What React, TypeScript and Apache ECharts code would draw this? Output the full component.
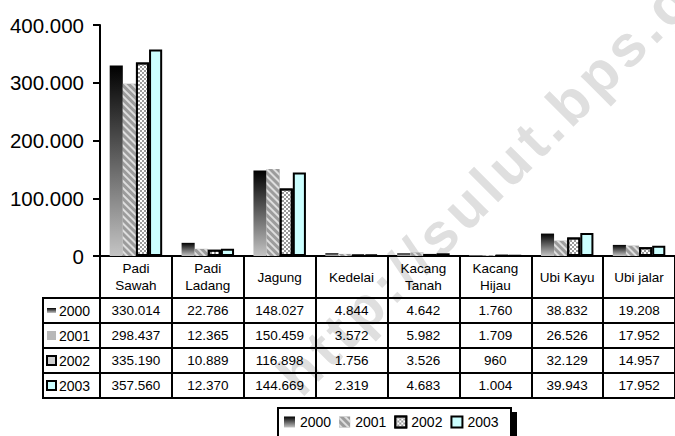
import React, { useEffect, useRef } from 'react';
import * as echarts from 'echarts';

const categories = ['Padi\nSawah', 'Padi\nLadang', 'Jagung', 'Kedelai', 'Kacang\nTanah', 'Kacang\nHijau', 'Ubi Kayu', 'Ubi jalar'];
const years = ['2000', '2001', '2002', '2003'];
const v2000 = [330014, 22786, 148027, 4844, 4642, 1760, 38832, 19208];
const v2001 = [298437, 12365, 150459, 3572, 5982, 1709, 26526, 17952];
const v2002 = [335190, 10889, 116898, 1756, 3526, 960, 32129, 14957];
const v2003 = [357560, 12370, 144669, 2319, 4683, 1004, 39943, 17952];
const yMin = 0;
const yMax = 400000;
const yStep = 100000;
const watermark = 'http://sulut.bps.go.id';

const FONT = "Arial, 'Liberation Sans', sans-serif";
const fmt = (n: number) => String(n).replace(/\B(?=(\d{3})+(?!\d))/g, '.');

const charW: Record<string, number> = {
  h: 0.611, t: 0.333, p: 0.611, ':': 0.333, '/': 0.278, s: 0.556, u: 0.611, l: 0.278,
  '.': 0.278, b: 0.611, g: 0.611, o: 0.611, i: 0.278, d: 0.611,
};

export default function App() {
  const ref = useRef<HTMLDivElement>(null);
  useEffect(() => {
    const chart = echarts.init(ref.current!, null, { renderer: 'svg' });
    const black = '#000';
    const all = [v2000, v2001, v2002, v2003];
    const headerH = 42;
    const rowH = 25;
    const gridTop = 25;
    const gridH = 231;
    const gridBottomY = gridTop + gridH;

    const grad = {
      type: 'linear', x: 0, y: 0, x2: 0, y2: 1,
      colorStops: [{ offset: 0, color: '#000000' }, { offset: 1, color: '#c4c4c4' }],
    };
    const itemStyles: any[] = [
      { color: grad },
      {
        color: '#9c9c9c',
        decal: { symbol: 'rect', symbolSize: 1, color: '#dedede', dashArrayX: [1, 0], dashArrayY: [2, 3], rotation: Math.PI / 4 },
      },
      {
        color: '#ffffff', borderColor: black, borderWidth: 2,
        decal: { symbol: 'rect', symbolSize: 1, color: '#9a9a9a', dashArrayX: [[2, 2], [0, 2, 2, 0]], dashArrayY: [2, 0] },
      },
      { color: '#ccffff', borderColor: black, borderWidth: 2 },
    ];

    const axisLine = { show: true, onZero: false, lineStyle: { color: black, width: 2 } };
    const labelBase = { interval: 0, color: black, fontFamily: FONT, verticalAlign: 'middle' };

    const xAxes: any[] = [
      {
        type: 'category', data: categories, position: 'bottom',
        axisLine,
        axisTick: { show: true, interval: 0, length: headerH, lineStyle: { color: black, width: 2 } },
        axisLabel: { ...labelBase, fontSize: 13.5, lineHeight: 17, margin: 21 },
        splitLine: { show: false },
      },
      ...all.map((vals, i) => ({
        type: 'category', data: vals.map(fmt), position: 'bottom', offset: headerH + rowH * i,
        axisLine,
        axisTick: { show: true, interval: 0, length: rowH, lineStyle: { color: black, width: 2 } },
        axisLabel: { ...labelBase, fontSize: 13.5, margin: 12.5 },
        splitLine: { show: false },
      })),
      {
        type: 'category', data: categories, position: 'bottom', offset: headerH + rowH * 4,
        axisLine, axisTick: { show: false }, axisLabel: { show: false }, splitLine: { show: false },
      },
    ];

    const graphics: any[] = [];
    // row label column
    years.forEach((y, i) => {
      const top = gridBottomY + headerH + rowH * i;
      const cy = top + rowH / 2;
      graphics.push({ type: 'rect', shape: { x: 43, y: top, width: 57, height: rowH }, style: { fill: '#fff', stroke: black, lineWidth: 2 }, z: 5 });
      let icon: any;
      if (i === 0) icon = { type: 'rect', shape: { x: 47, y: cy - 2.5, width: 9, height: 5 }, style: { fill: grad }, z: 6 };
      else if (i === 1) icon = { type: 'rect', shape: { x: 47, y: cy - 4.5, width: 9, height: 9 }, style: { fill: '#b8b8b8' }, z: 6 };
      else if (i === 2) icon = { type: 'rect', shape: { x: 47, y: cy - 4.5, width: 9, height: 9 }, style: { fill: '#cfcfcf', stroke: black, lineWidth: 2 }, z: 6 };
      else icon = { type: 'rect', shape: { x: 47, y: cy - 4.5, width: 9, height: 9 }, style: { fill: '#ccffff', stroke: black, lineWidth: 2 }, z: 6 };
      graphics.push(icon);
      graphics.push({ type: 'text', x: 59, y: cy, style: { text: y, fill: black, font: `14px ${FONT}`, verticalAlign: 'middle', align: 'left' }, z: 6 });
    });
    // legend box
    graphics.push({ type: 'rect', shape: { x: 284, y: 412, width: 233, height: 40 }, style: { fill: black }, z: 1 });
    graphics.push({ type: 'rect', shape: { x: 278, y: 408, width: 233, height: 40 }, style: { fill: '#fff', stroke: black, lineWidth: 2 }, z: 2 });

    // watermark
    const fs = 58;
    const sp = 5;
    const ang = (45 * Math.PI) / 180;
    const startX = 300;
    const startY = 372;
    let acc = 0;
    watermark.split('').forEach((ch, k) => {
      const w = (charW[ch] ?? 0.55) * fs;
      const centerOffset = k === 0 ? 0 : acc + w / 2;
      if (k === 0) acc = w / 2 + sp;
      else acc += w + sp;
      const cx = startX + centerOffset * Math.cos(ang);
      const cy = startY - centerOffset * Math.sin(ang);
      if (cx > 690 || cy < -15) return;
      graphics.push({
        type: 'text',
        x: cx,
        y: cy,
        rotation: ang,
        style: { text: ch, fill: '#dfdfdf', font: `bold ${fs}px ${FONT}`, align: 'center', verticalAlign: 'middle' },
        z: 0,
      });
    });

    chart.setOption({
      animation: false,
      backgroundColor: '#fff',
      grid: { left: 100, top: gridTop, width: 582, height: gridH, containLabel: false },
      xAxis: xAxes,
      yAxis: {
        type: 'value', min: yMin, max: yMax, interval: yStep,
        axisLine: { show: true, lineStyle: { color: black, width: 2 } },
        axisTick: { show: true, length: 7, lineStyle: { color: black, width: 2 } },
        splitLine: { show: false },
        axisLabel: { color: black, fontSize: 20.5, fontFamily: FONT, margin: 16, formatter: (v: number) => fmt(v) },
      },
      legend: {
        data: years, left: 284, top: 415, padding: 0, itemWidth: 11, itemHeight: 11, itemGap: 8,
        icon: 'rect',
        textStyle: { fontSize: 14, color: black, fontFamily: FONT },
        z: 10,
      },
      graphic: { elements: graphics },
      series: all.map((vals, i) => ({
        type: 'bar', name: years[i], data: vals, xAxisIndex: 0, yAxisIndex: 0,
        barGap: '0%', barCategoryGap: '27%',
        itemStyle: itemStyles[i],
        z: 3,
      })),
    });
    return () => chart.dispose();
  }, []);
  return <div ref={ref} style={{ position: 'fixed', left: 0, top: 0, width: 675, height: 436, background: '#fff' }} />;
}
